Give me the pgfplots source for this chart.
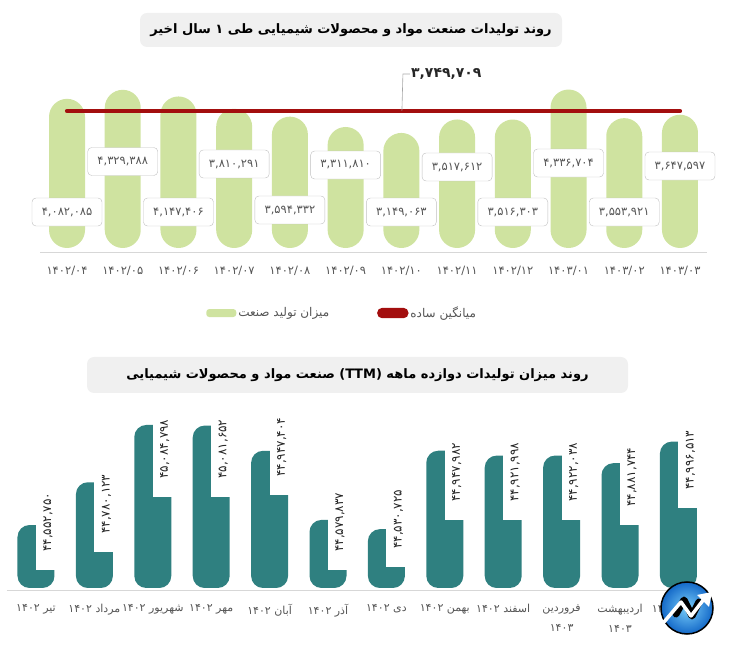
\documentclass[border=0pt]{standalone}
\usepackage{pgfplots}
\pgfplotsset{compat=1.18}
\usepackage{fontspec}
\setmainfont{DejaVu Sans}
\newfontfamily\fa[Script=Arabic]{DejaVu Sans}
\TeXXeTstate=1
\definecolor{barG}{RGB}{207,227,160}
\definecolor{barT}{RGB}{47,128,128}
\definecolor{avgR}{RGB}{163,14,14}
\definecolor{boxB}{RGB}{192,192,192}
\definecolor{titleF}{RGB}{240,240,240}
\definecolor{lbl}{RGB}{85,85,85}
\definecolor{baseL}{RGB}{215,215,215}
\begin{document}
\begin{tikzpicture}[x=1pt,y=1pt]
\path[use as bounding box] (0,0) rectangle (732,654);

% ---------------- top chart ----------------
\begin{axis}[
  at={(40pt,406pt)}, anchor=south west,
  scale only axis, width=667pt, height=163pt,
  xmin=-0.485, xmax=11.485, ymin=0, ymax=4461000,
  axis line style={draw=none}, tick style={draw=none},
  ytick=\empty, xtick={0,...,11},
  xticklabels={۱۴۰۲/۰۴,۱۴۰۲/۰۵,۱۴۰۲/۰۶,۱۴۰۲/۰۷,۱۴۰۲/۰۸,۱۴۰۲/۰۹,۱۴۰۲/۱۰,۱۴۰۲/۱۱,۱۴۰۲/۱۲,۱۴۰۳/۰۱,۱۴۰۳/۰۲,۱۴۰۳/۰۳},
  xticklabel style={font=\fa\fontsize{11.5}{13}\selectfont, text=lbl, yshift=-15pt},
  clip=false,
  legend style={at={(axis description cs:0.453,-0.399)}, anchor=center, draw=none, fill=none,
    legend columns=2, font=\fa\fontsize{12}{14}\selectfont, text=lbl,
    /tikz/every even column/.append style={column sep=46pt}},
]
\addplot[ybar, bar width=36pt, fill=barG, draw=none, rounded corners=18pt,
  legend image code/.code={\fill[barG, rounded corners=3pt] (0pt,-4pt) rectangle (30pt,4pt);}]
  coordinates {(0,4082085) (1,4329388) (2,4147406) (3,3810291) (4,3594332) (5,3311810)
               (6,3149063) (7,3517612) (8,3516303) (9,4336704) (10,3553921) (11,3647597)};
\addlegendentry{\beginR میزان تولید صنعت\endR}
\addplot[avgR, line width=4.2pt, line cap=round,
  legend image code/.code={\fill[avgR, rounded corners=3pt] (0pt,-3pt) rectangle (27pt,3pt);}]
  coordinates {(0,3749709) (11,3749709)};
\addlegendentry{\beginR میانگین ساده\endR}
\addplot[draw=none, forget plot, nodes near coords, point meta=explicit symbolic,
  every node near coord/.style={anchor=center, fill=white, draw=boxB, rounded corners=4pt,
    minimum width=70pt, minimum height=28pt, inner sep=0pt,
    font=\fa\fontsize{11.5}{13}\selectfont, text=lbl}]
  coordinates {(0,985000)[۴,۰۸۲,۰۸۵] (1,2367000)[۴,۳۲۹,۳۸۸] (2,985000)[۴,۱۴۷,۴۰۶]
               (3,2299000)[۳,۸۱۰,۲۹۱] (4,1040000)[۳,۵۹۴,۳۳۲] (5,2271000)[۳,۳۱۱,۸۱۰]
               (6,985000)[۳,۱۴۹,۰۶۳] (7,2217000)[۳,۵۱۷,۶۱۲] (8,985000)[۳,۵۱۶,۳۰۳]
               (9,2326000)[۴,۳۳۶,۷۰۴] (10,985000)[۳,۵۵۳,۹۲۱] (11,2244000)[۳,۶۴۷,۵۹۷]};
\draw[gray!70, line width=0.6pt] (axis cs:6.01,3749709) -- ++(1pt,37pt) -- ++(7pt,0pt) coordinate (lead);
\node[anchor=west, inner sep=1pt, font=\fa\bfseries\fontsize{14}{16}\selectfont, text=black!85] at (lead) {۳,۷۴۹,۷۰۹};
\draw[baseL, line width=0.8pt] ([yshift=-4pt]rel axis cs:0,0) -- ([yshift=-4pt]rel axis cs:1,0);
\end{axis}

% ---------------- bottom chart ----------------
\begin{axis}[
  at={(6.8pt,66pt)}, anchor=south west,
  scale only axis, width=700.8pt, height=183pt,
  xmin=-0.5, xmax=11.5, ymin=44217700, ymax=45191000,
  axis line style={draw=none}, tick style={draw=none},
  ytick=\empty, xtick={0,...,11},
  xticklabels={{\beginR تیر ۱۴۰۲\endR},{\beginR مرداد ۱۴۰۲\endR},{\beginR شهریور ۱۴۰۲\endR},
    {\beginR مهر ۱۴۰۲\endR},{\beginR آبان ۱۴۰۲\endR},{\beginR آذر ۱۴۰۲\endR},{\beginR دی ۱۴۰۲\endR},
    {\beginR بهمن ۱۴۰۲\endR},{\beginR اسفند ۱۴۰۲\endR},{\beginR فروردین\endR\\۱۴۰۳},
    {\beginR اردیبهشت\endR\\۱۴۰۳},{\beginR خرداد ۱۴۰۳\endR}},
  xticklabel style={font=\fa\fontsize{11}{20}\selectfont, text=lbl, align=center, anchor=north, yshift=-13pt},
  clip=false,
]
\addplot[ybar, bar width=37pt, fill=barT, draw=none, rounded corners=12pt]
  coordinates {(0,44552750) (1,44780123) (2,45084798) (3,45081652) (4,44947404) (5,44579837)
               (6,44530725) (7,44947982) (8,44921998) (9,44922038) (10,44881744) (11,44996513)};
\addplot[draw=none, forget plot, nodes near coords, point meta=explicit symbolic,
  every node near coord/.style={xshift=12pt, rotate=90, anchor=west, fill=white,
    inner xsep=18pt, inner ysep=0pt, minimum height=24pt,
    font=\fa\fontsize{12}{14}\selectfont, text=black!85}]
  coordinates {(0,44313000)[۴۴,۵۵۲,۷۵۰] (1,44409000)[۴۴,۷۸۰,۱۲۳] (2,44702000)[۴۵,۰۸۴,۷۹۸]
               (3,44702000)[۴۵,۰۸۱,۶۵۲] (4,44712000)[۴۴,۹۴۷,۴۰۴] (5,44313000)[۴۴,۵۷۹,۸۳۷]
               (6,44329000)[۴۴,۵۳۰,۷۲۵] (7,44579000)[۴۴,۹۴۷,۹۸۲] (8,44579000)[۴۴,۹۲۱,۹۹۸]
               (9,44579000)[۴۴,۹۲۲,۰۳۸] (10,44553000)[۴۴,۸۸۱,۷۴۴] (11,44643000)[۴۴,۹۹۶,۵۱۳]};
\draw[baseL, line width=0.8pt] ([yshift=-2.5pt]rel axis cs:0,0) -- ([yshift=-2.5pt]rel axis cs:1,0);
\end{axis}

% ---------------- titles ----------------
\node[fill=titleF, rounded corners=7pt, minimum width=422pt, minimum height=34pt, inner sep=0pt] at (351,624)
  {\fa\bfseries\fontsize{13}{15}\selectfont\beginR روند تولیدات صنعت مواد و محصولات شیمیایی طی ۱ سال اخیر\endR};
\node[fill=titleF, rounded corners=7pt, minimum width=541pt, minimum height=36pt, inner sep=0pt] at (357.5,279)
  {\fa\bfseries\fontsize{13}{15}\selectfont\beginR روند میزان تولیدات دوازده ماهه \beginL(TTM)\endL{} صنعت مواد و محصولات شیمیایی\endR};

% ---------------- logo ----------------
\shade[inner color={rgb,255:red,120;green,205;blue,250}, outer color={rgb,255:red,20;green,105;blue,200}] (687,46) circle (26);
\draw[line width=1.5pt] (687,46) circle (26);
\draw[line width=7pt, line cap=round, line join=round] (676,40) -- (684,54) -- (692,38) -- (699,52);
\draw[white, line width=3.5pt, line cap=round, line join=round] (664,32) -- (681,52) -- (691,38) -- (704,55);
\fill[white] (712,62) -- (697,59) -- (709,47) -- cycle;
\end{tikzpicture}
\end{document}
